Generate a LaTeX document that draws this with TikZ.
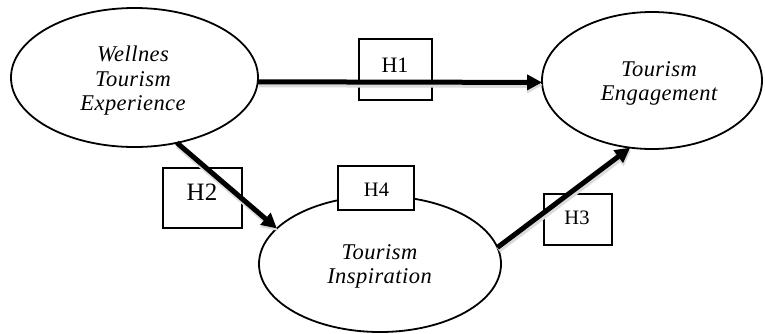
\documentclass[tikz,border=0pt]{standalone}
\usepackage{fontspec}
\setmainfont{Liberation Serif}
\newfontfamily\lblfont[LetterSpace=2]{Liberation Serif}
\usetikzlibrary{arrows.meta,shapes.geometric}
\begin{document}
\begin{tikzpicture}[x=1pt,y=-1pt,
  construct/.style={draw, ellipse, line width=1.8pt, inner sep=0pt, outer sep=0pt},
  ctext/.style={align=center, font=\lblfont\itshape\fontsize{22.5}{24.5}\selectfont, inner sep=0pt},
  hbox/.style={draw, fill=white, line width=1.2pt, inner sep=0pt, outer sep=0pt},
  htext/.style={inner sep=0pt},
  relpath/.style={line width=5pt, -{Triangle[length=15pt,width=15pt]}},
  relshadow/.style={line width=6pt, draw=black!14, -{Triangle[length=16pt,width=16pt]}}
]
\useasboundingbox (0,0) rectangle (765,333);

% constructs
\node[construct, minimum width=247pt, minimum height=139pt] (e1) at (134.5,77.5) {};
\node[construct, minimum width=220pt, minimum height=137pt] (e2) at (652,80.5) {};
\node[construct, minimum width=242pt, minimum height=136pt] (e3) at (380,264) {};

\node[ctext] (t1) at (133,81) {Wellnes\\Tourism\\Experience};
\node[ctext] (t2) at (659,83.5) {Tourism\\Engagement};
\node[ctext] (t3) at (379.5,266.5) {Tourism\\Inspiration};

% hypothesis boxes
\node[hbox, minimum width=73pt, minimum height=61pt] (b1) at (395.5,69.5) {};
\node[hbox, minimum width=79pt, minimum height=60pt] (b2) at (202.5,198) {};
\node[hbox, minimum width=76pt, minimum height=44pt] (b4) at (376,188) {};
\node[hbox, minimum width=68pt, minimum height=51pt] (b3) at (578,219.5) {};

\node[htext, font=\fontsize{22}{26}\selectfont] (h1) at (395,65) {H1};
\node[htext, font=\fontsize{25}{29}\selectfont] (h2) at (202,192.5) {H2};
\node[htext, font=\fontsize{20.5}{24}\selectfont] (h4) at (376.5,190) {H4};
\node[htext, font=\fontsize{20.5}{24}\selectfont] (h3) at (577,218.3) {H3};

% relation shadows
\draw[relshadow] ([shift={(1,2.5)}]e1.-2) -- ([shift={(1,2.5)}]e2.181);
\draw[relshadow] ([shift={(1,2.5)}]e1.-57) -- ([shift={(1,2.5)}]e3.161);
\draw[relshadow] ([shift={(1,2.5)}]e3.8.4) -- ([shift={(1,2.5)}]e2.252);

% relations
\draw[relpath] (e1.-2) -- (e2.181);
\draw[relpath] (e1.-57) -- (e3.161);
\draw[relpath] (e3.8.4) -- (e2.252);
\end{tikzpicture}
\end{document}
